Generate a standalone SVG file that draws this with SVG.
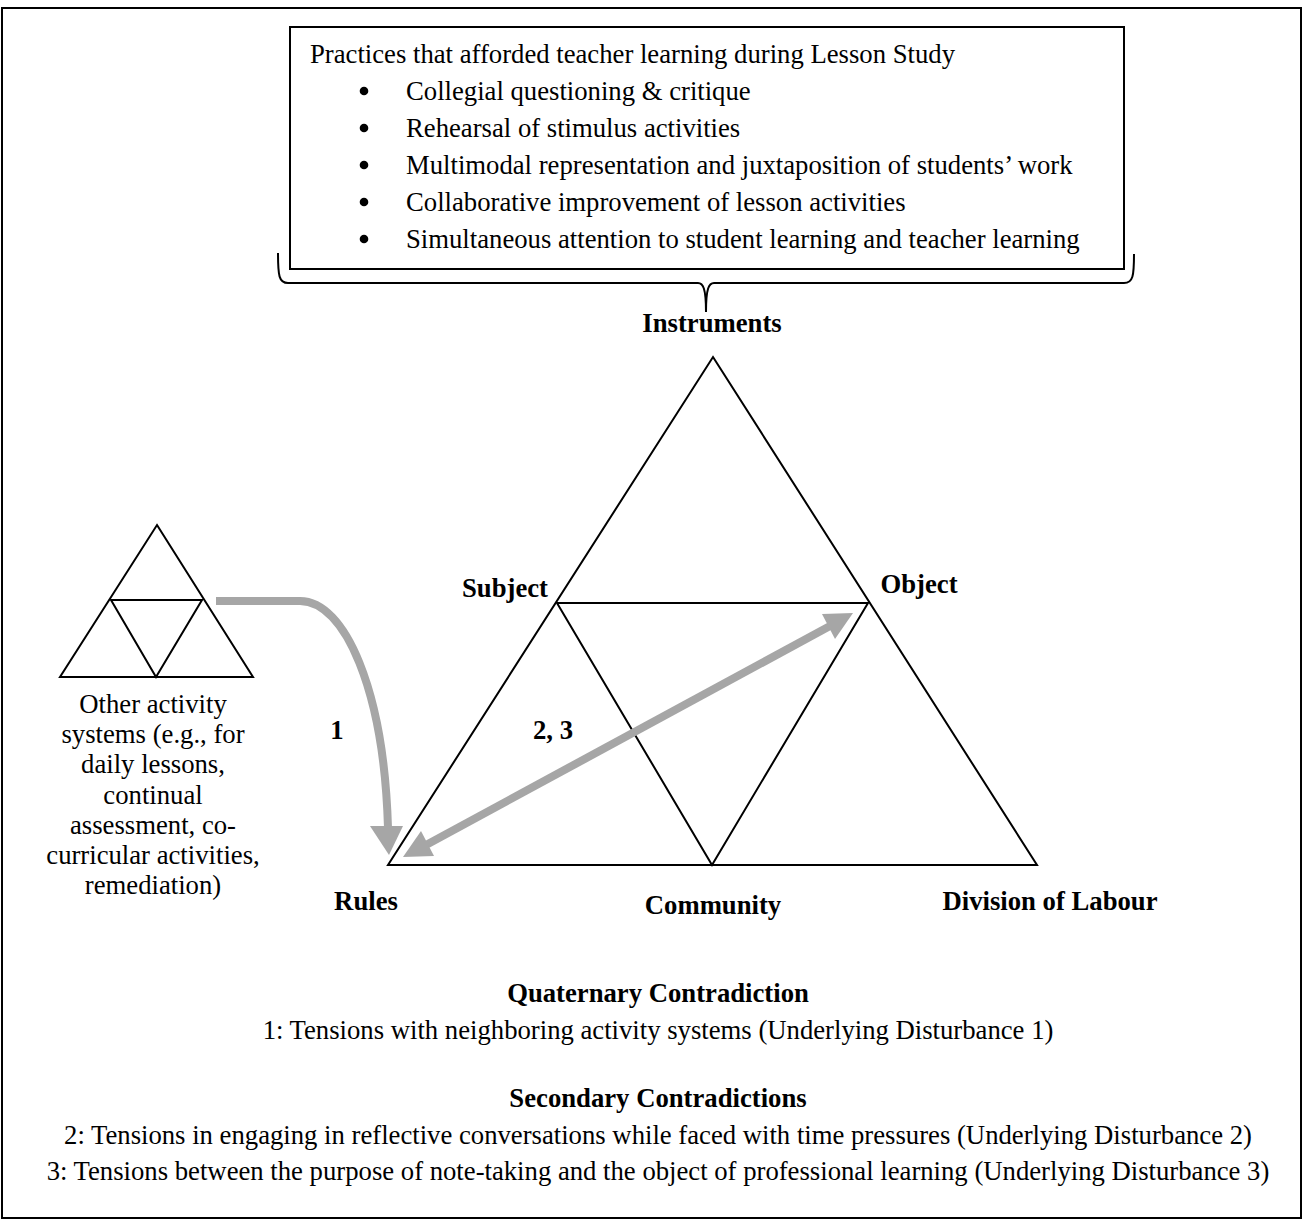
<svg xmlns="http://www.w3.org/2000/svg" width="1304" height="1220" viewBox="0 0 1304 1220">
<style>
text{font-family:"Liberation Serif","Times New Roman",serif;font-size:26.7px;fill:#000}
.b{font-weight:bold}
.c{text-anchor:middle}
.ln{fill:none;stroke:#000;stroke-width:2}
.gr{fill:none;stroke:#a6a6a6;stroke-width:8}
.gh{fill:#a6a6a6;stroke:none}
.bu{fill:#000}
</style>
<rect x="2" y="8" width="1299" height="1210" fill="#fff" stroke="#000" stroke-width="2"/>
<g id="practices">
<rect x="290" y="27" width="834" height="242" class="ln"/>
<text x="310" y="63">Practices that afforded teacher learning during Lesson Study</text>
<circle class="bu" cx="364" cy="91" r="4.3"/><text x="406" y="100">Collegial questioning &amp; critique</text>
<circle class="bu" cx="364" cy="128" r="4.3"/><text x="406" y="137">Rehearsal of stimulus activities</text>
<circle class="bu" cx="364" cy="165" r="4.3"/><text x="406" y="174">Multimodal representation and juxtaposition of students’ work</text>
<circle class="bu" cx="364" cy="202" r="4.3"/><text x="406" y="211">Collaborative improvement of lesson activities</text>
<circle class="bu" cx="364" cy="239" r="4.3"/><text x="406" y="248">Simultaneous attention to student learning and teacher learning</text>
</g>
<g id="brace">
<path class="ln" d="M278,253 C278,276 279,283 288,283 H698 C703,283 706,288 706,312"/>
<path class="ln" d="M1134,254 C1134,276 1133,283 1124,283 H714 C709,283 706,288 706,312"/>
</g>
<g id="activity-system">
<path class="ln" d="M713,357 L1037,865 L388,865 Z"/>
<path class="ln" d="M557,603 L868,603 L712,865 Z"/>
<text x="712" y="332" class="b c">Instruments</text>
<text x="505" y="597" class="b c">Subject</text>
<text x="919" y="593" class="b c">Object</text>
<text x="366" y="910" class="b c">Rules</text>
<text x="713" y="914" class="b c">Community</text>
<text x="1050" y="910" class="b c">Division of Labour</text>
</g>
<g id="other-systems">
<path class="ln" d="M157,525 L253,677 L60,677 Z"/>
<path class="ln" d="M111,600 L202,600 L156,677 Z"/>
<text class="c" x="153" y="713">Other activity</text>
<text class="c" x="153" y="743">systems (e.g., for</text>
<text class="c" x="153" y="773">daily lessons,</text>
<text class="c" x="153" y="804">continual</text>
<text class="c" x="153" y="834">assessment, co-</text>
<text class="c" x="153" y="864">curricular activities,</text>
<text class="c" x="153" y="894">remediation)</text>
</g>
<g id="connectors">
<path class="gr" d="M216,601 L300,601 C345,601 384,690 388,828"/>
<polygon class="gh" points="370,826 403,826 389,855"/>
<line class="gr" x1="426" y1="845" x2="830" y2="626"/>
<polygon class="gh" points="853,613 835,639 822,614"/>
<polygon class="gh" points="403,857 434,856 421,831"/>
<text x="337" y="739" class="b c">1</text>
<text x="553" y="739" class="b c">2, 3</text>
</g>
<g id="legend">
<text x="658" y="1002" class="b c">Quaternary Contradiction</text>
<text x="658" y="1039" class="c">1: Tensions with neighboring activity systems (Underlying Disturbance 1)</text>
<text x="658" y="1107" class="b c">Secondary Contradictions</text>
<text x="658" y="1144" class="c">2: Tensions in engaging in reflective conversations while faced with time pressures (Underlying Disturbance 2)</text>
<text x="658" y="1180" class="c">3: Tensions between the purpose of note-taking and the object of professional learning (Underlying Disturbance 3)</text>
</g>
</svg>
